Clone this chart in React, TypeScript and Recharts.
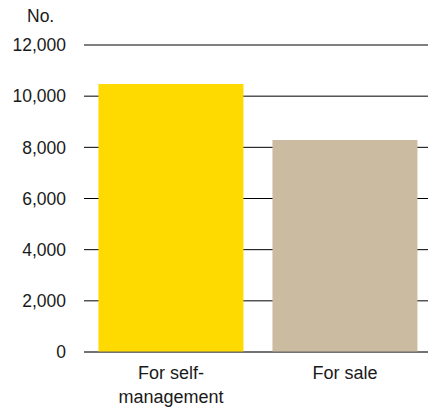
import React from "react";
import { BarChart, Bar, XAxis, YAxis, CartesianGrid, Cell } from "recharts";

const categories = ["For self-\nmanagement", "For sale"];
const values = [10480, 8290];
const colors = ["#FFDA00", "#CBBBA1"];
const yTicks = [0, 2000, 4000, 6000, 8000, 10000, 12000];

const data = categories.map((c, i) => ({ name: c, value: values[i] }));

const FONT = "'Liberation Sans', Arial, sans-serif";

const XTick = (props: any) => {
  const { x, y, payload } = props;
  const lines = String(payload.value).split("\n");
  return (
    <text x={x} y={y} textAnchor="middle" fill="#1a1a1a" fontFamily={FONT} fontSize={18}>
      {lines.map((l: string, i: number) => (
        <tspan key={i} x={x} dy={i === 0 ? 27 : 24}>
          {l}
        </tspan>
      ))}
    </text>
  );
};

export default function App() {
  return (
    <div style={{ position: "absolute", left: 0, top: 0, width: 428, height: 410, background: "#fff", overflow: "hidden" }}>
      <div
        style={{
          position: "absolute",
          left: 27,
          top: 6,
          fontFamily: FONT,
          fontSize: 17.5,
          color: "#1a1a1a",
          lineHeight: "20px",
        }}
      >
        No.
      </div>
      <BarChart
        width={432}
        height={410}
        data={data}
        margin={{ top: 45, right: 0, bottom: 0, left: 0 }}
        barCategoryGap="8.3%"
      >
        <CartesianGrid vertical={false} stroke="#000" strokeWidth={1} />
        <XAxis
          dataKey="name"
          height={58}
          tickLine={false}
          tickSize={0}
          tickMargin={0}
          axisLine={{ stroke: "#666", strokeWidth: 1 }}
          tick={<XTick />}
          interval={0}
        />
        <YAxis
          width={84}
          domain={[0, 12000]}
          ticks={yTicks}
          axisLine={false}
          tickLine={false}
          tickSize={0}
          tickMargin={18}
          tickFormatter={(v: number) => v.toLocaleString("en-US")}
          tick={{ fill: "#1a1a1a", fontFamily: FONT, fontSize: 17.5 }}
        />
        <Bar dataKey="value" isAnimationActive={false}>
          {data.map((d, i) => (
            <Cell key={d.name} fill={colors[i]} />
          ))}
        </Bar>
      </BarChart>
    </div>
  );
}
